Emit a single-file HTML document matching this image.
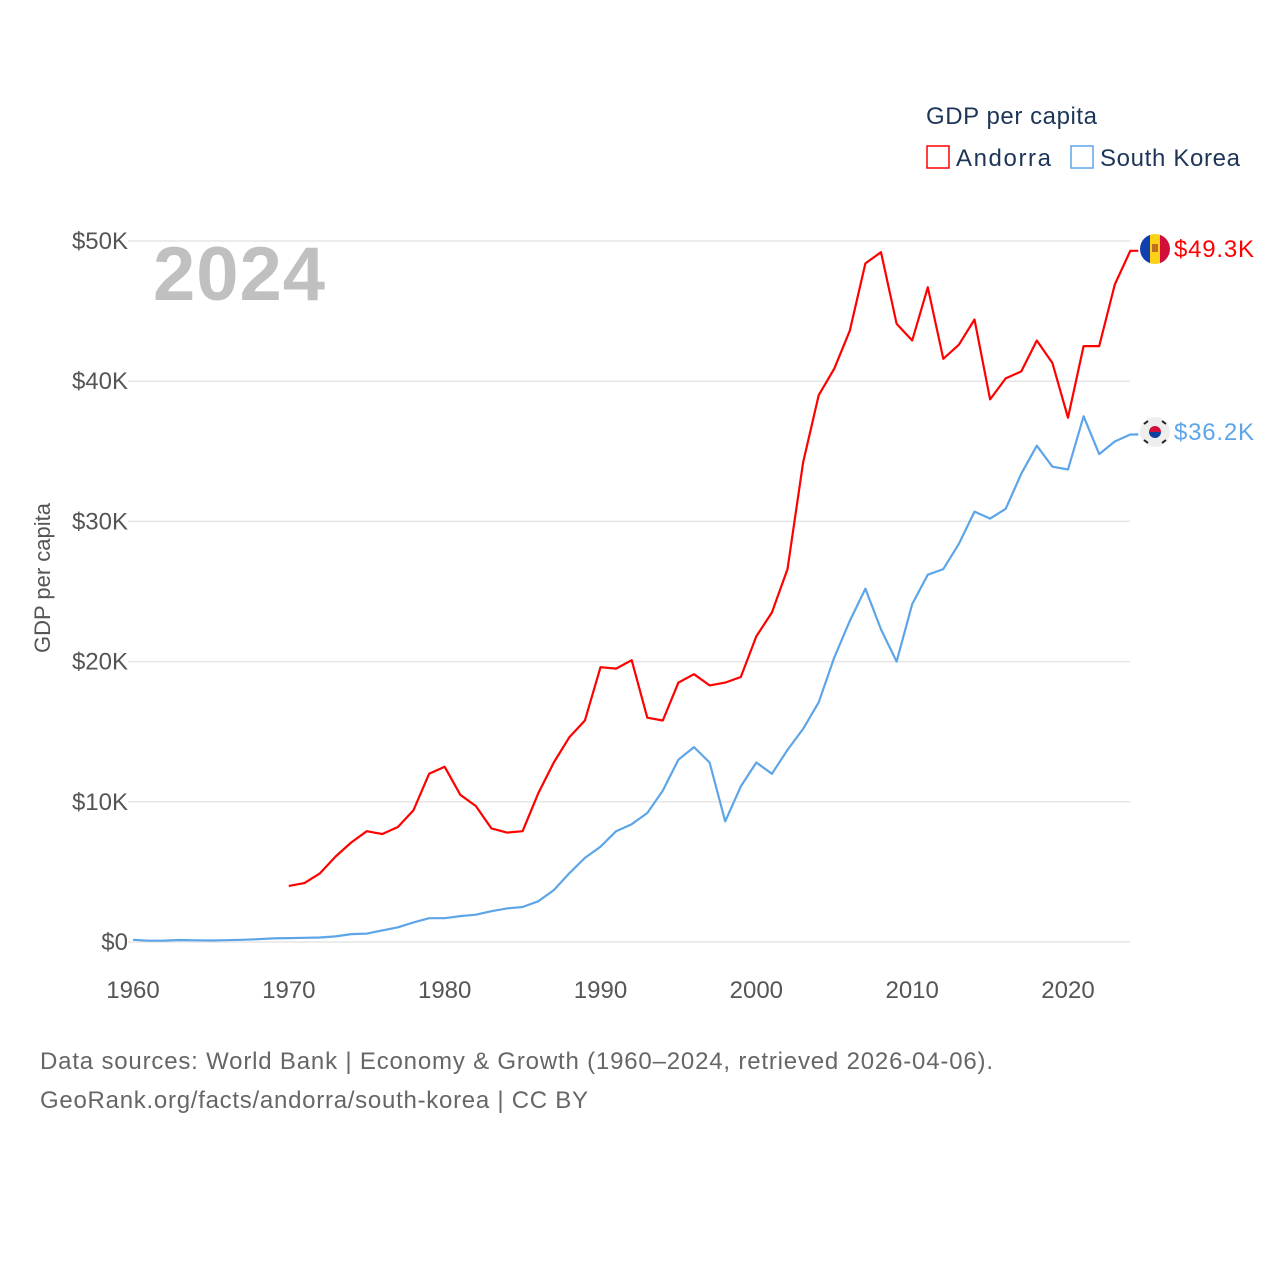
<!DOCTYPE html>
<html><head><meta charset="utf-8">
<style>
body{margin:0;background:#fff;font-family:"Liberation Sans",sans-serif;}
svg text{font-family:"Liberation Sans",sans-serif;}
</style></head>
<body>
<svg width="1280" height="1280" viewBox="0 0 1280 1280" xmlns="http://www.w3.org/2000/svg">
<rect width="1280" height="1280" fill="#fff"/>
<g id="grid"></g>
<g id="yticks"></g>
<g id="xticks"></g>
<text x="153" y="300" font-size="76" font-weight="bold" fill="#c0c0c0" textLength="172">2024</text>
<text transform="translate(50,578) rotate(-90)" text-anchor="middle" font-size="22" fill="#555">GDP per capita</text>
<g id="series"></g>
<g>
<text x="926" y="124" font-size="24" fill="#1d3557" textLength="171">GDP per capita</text>
<g>
<rect x="927" y="146" width="22" height="22" fill="none" stroke="#ff0000" stroke-width="1.5"/>
<text x="956" y="166" font-size="24" fill="#1d3557" textLength="95">Andorra</text></g>
<g>
<rect x="1071" y="146" width="22" height="22" fill="none" stroke="#5da5e8" stroke-width="1.5"/>
<text x="1100" y="166" font-size="24" fill="#1d3557" textLength="140">South Korea</text></g>
</g>
<g>
<clipPath id="c1"><circle cx="1155" cy="249" r="15"/></clipPath>
<g clip-path="url(#c1)"><rect x="1140" y="234" width="10" height="30" fill="#1040b0"/><rect x="1150" y="234" width="10" height="30" fill="#fcd116"/><rect x="1160" y="234" width="10" height="30" fill="#d0103a"/><rect x="1152" y="244" width="6" height="8" fill="#c07020"/></g></g>
<g>
<circle cx="1155" cy="432" r="15" fill="#eee"/>
<path d="M1149 432 a6 6 0 0 1 12 0z" fill="#d0103a"/><path d="M1149 432 a6 6 0 0 0 12 0z" fill="#1040a0"/>
<g stroke="#222" stroke-width="2"><line x1="1144" y1="424" x2="1148" y2="421"/><line x1="1162" y1="421" x2="1166" y2="424"/><line x1="1144" y1="440" x2="1148" y2="443"/><line x1="1162" y1="443" x2="1166" y2="440"/></g></g>
<text x="1174" y="257" font-size="24" fill="#ff0000" textLength="80">$49.3K</text>
<text x="1174" y="440" font-size="24" fill="#5da5e8" textLength="80">$36.2K</text>
<text x="40" y="1069" font-size="24" fill="#666" textLength="953">Data sources: World Bank | Economy &amp; Growth (1960–2024, retrieved 2026-04-06).</text>
<text x="40" y="1108" font-size="24" fill="#666" textLength="548">GeoRank.org/facts/andorra/south-korea | CC BY</text>
</svg>
<script>
const xTicks=[1960,1970,1980,1990,2000,2010,2020];
const yTicks=[0,10,20,30,40,50];
const yTickLabels=["$0","$10K","$20K","$30K","$40K","$50K"];
const andorraYears=[1970,1971,1972,1973,1974,1975,1976,1977,1978,1979,1980,1981,1982,1983,1984,1985,1986,1987,1988,1989,1990,1991,1992,1993,1994,1995,1996,1997,1998,1999,2000,2001,2002,2003,2004,2005,2006,2007,2008,2009,2010,2011,2012,2013,2014,2015,2016,2017,2018,2019,2020,2021,2022,2023,2024];
const andorraValues=[4.0,4.2,4.9,6.1,7.1,7.9,7.7,8.2,9.4,12.0,12.5,10.5,9.7,8.1,7.8,7.9,10.6,12.8,14.6,15.8,19.6,19.5,20.1,16.0,15.8,18.5,19.1,18.3,18.5,18.9,21.8,23.5,26.6,34.2,39.0,40.9,43.6,48.4,49.2,44.1,42.9,46.7,41.6,42.6,44.4,38.7,40.2,40.7,42.9,41.3,37.4,42.5,42.5,46.9,49.3];
const koreaYears=[1960,1961,1962,1963,1964,1965,1966,1967,1968,1969,1970,1971,1972,1973,1974,1975,1976,1977,1978,1979,1980,1981,1982,1983,1984,1985,1986,1987,1988,1989,1990,1991,1992,1993,1994,1995,1996,1997,1998,1999,2000,2001,2002,2003,2004,2005,2006,2007,2008,2009,2010,2011,2012,2013,2014,2015,2016,2017,2018,2019,2020,2021,2022,2023,2024];
const koreaValues=[0.16,0.09,0.1,0.14,0.12,0.11,0.13,0.16,0.2,0.26,0.28,0.3,0.32,0.4,0.56,0.6,0.83,1.05,1.4,1.7,1.7,1.85,1.95,2.2,2.4,2.5,2.9,3.7,4.9,6.0,6.8,7.9,8.4,9.2,10.8,13.0,13.9,12.8,8.6,11.1,12.8,12.0,13.7,15.2,17.1,20.3,22.9,25.2,22.3,20.0,24.1,26.2,26.6,28.4,30.7,30.2,30.9,33.4,35.4,33.9,33.7,37.5,34.8,35.7,36.2];
const NS="http://www.w3.org/2000/svg";
function X(yr){return 133+(yr-1960)*(935/60);}
function Y(v){return 942-v*14.02;}
const grid=document.getElementById('grid'),yt=document.getElementById('yticks'),xt=document.getElementById('xticks'),ser=document.getElementById('series');
yTicks.forEach((v,i)=>{
 const l=document.createElementNS(NS,'line');
 
 
 l.setAttribute('x1',128);l.setAttribute('x2',1130);l.setAttribute('y1',Y(v));l.setAttribute('y2',Y(v));
 l.setAttribute('stroke','#e6e6e6');l.setAttribute('stroke-width','1.5');grid.appendChild(l);
 const t=document.createElementNS(NS,'text');
 
 
 t.setAttribute('x',128);t.setAttribute('y',Y(v)+8);t.setAttribute('text-anchor','end');
 t.setAttribute('font-size','24');t.setAttribute('fill','#555');t.textContent=yTickLabels[i];yt.appendChild(t);
});
xTicks.forEach(yr=>{
 const t=document.createElementNS(NS,'text');
 
 
 t.setAttribute('x',X(yr));t.setAttribute('y',998);t.setAttribute('text-anchor','middle');
 t.setAttribute('font-size','24');t.setAttribute('fill','#555');t.textContent=yr;xt.appendChild(t);
});
function line(years,vals,color,name){
 let d=years.map((yr,i)=>(i?'L':'M')+X(yr).toFixed(1)+' '+Y(vals[i]).toFixed(1)).join(' ');
 d+=' L'+(X(years[years.length-1])+8).toFixed(1)+' '+Y(vals[vals.length-1]).toFixed(1);
 const p=document.createElementNS(NS,'path');
 
 
 p.setAttribute('d',d);p.setAttribute('fill','none');p.setAttribute('stroke',color);
 p.setAttribute('stroke-width','2.2');p.setAttribute('stroke-linejoin','round');ser.appendChild(p);
}
line(koreaYears,koreaValues,'#5da5e8','south-korea-line');
line(andorraYears,andorraValues,'#ff0000','andorra-line');
</script>
</body></html>
